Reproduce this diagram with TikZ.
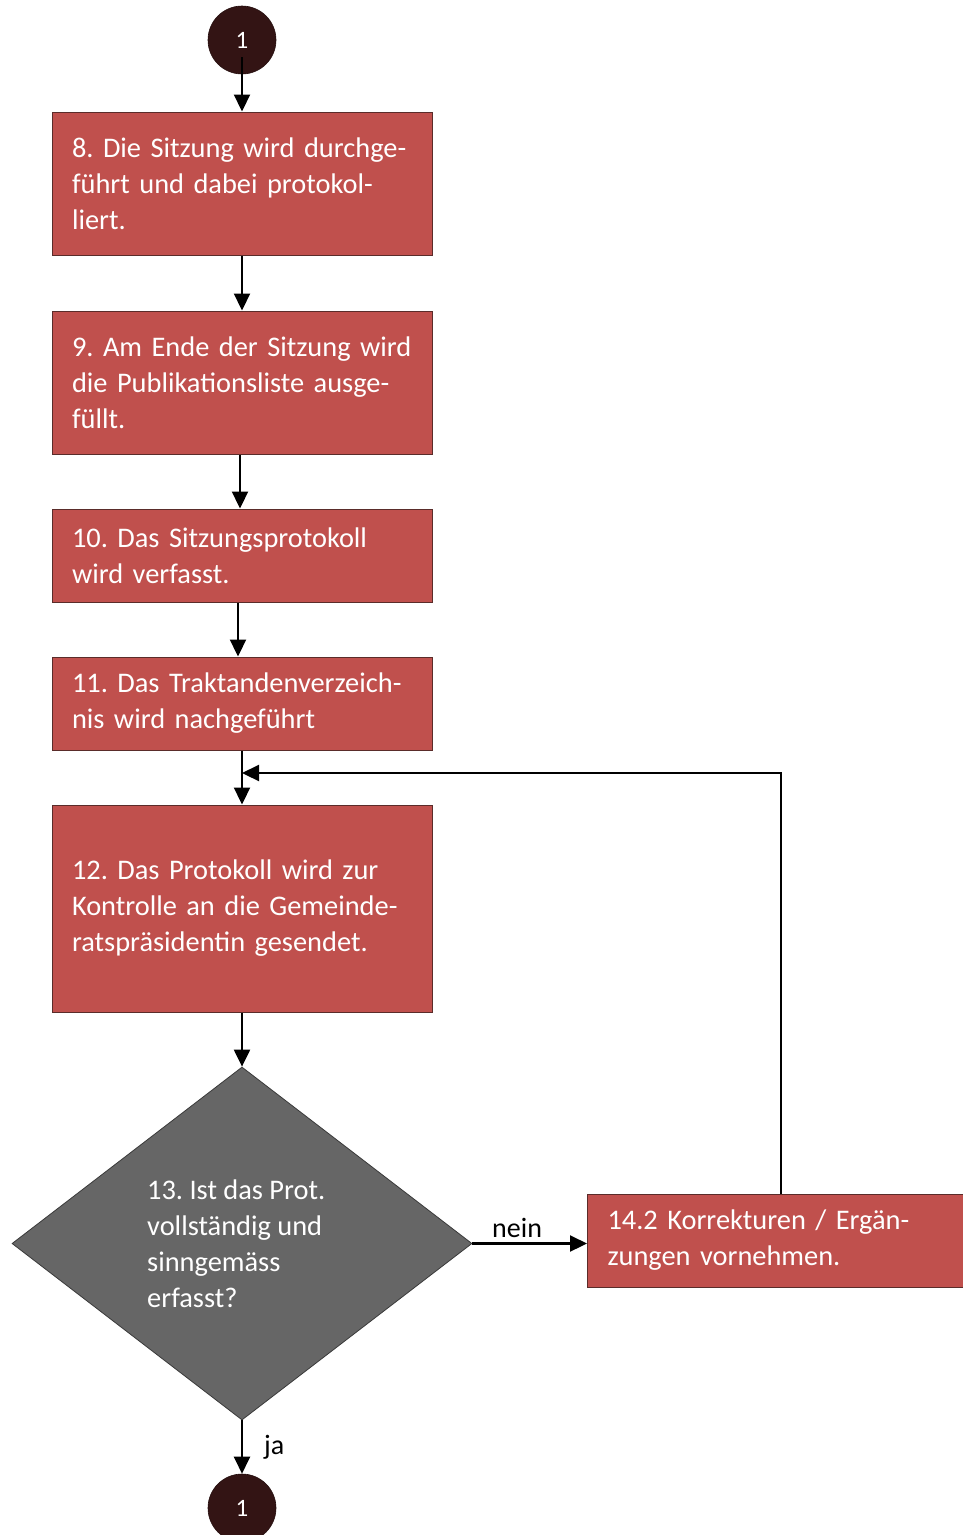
\documentclass[tikz,border=0pt]{standalone}
\usepackage{fontspec}
\setmainfont{Carlito}
\usetikzlibrary{shapes.geometric,arrows.meta}
\definecolor{boxred}{HTML}{C0504D}
\definecolor{boxline}{HTML}{5A2C2A}
\definecolor{dgray}{HTML}{666666}
\definecolor{dline}{HTML}{3A3A3A}
\definecolor{circ}{HTML}{331414}
\newcommand\lnx[1]{\mbox{#1}}
\tikzset{
  stepbox/.style={rectangle, fill=boxred, draw=boxline, line width=1pt, text=white,
    text width=340pt, inner xsep=20pt, inner ysep=0pt, align=left,
    font=\fontsize{28.4}{36}\selectfont\frenchspacing},
  conn/.style={circle, fill=circ, draw=circ!70!black, line width=0.6pt, minimum width=68pt,
    inner sep=0pt, text=white, font=\fontsize{25}{28}\selectfont},
  arr/.style={line width=2.2pt, -{Triangle[width=16pt,length=17pt]}},
  lbl/.style={font=\fontsize{28}{32}\selectfont, inner sep=0pt},
}
\begin{document}
\begin{tikzpicture}[x=1pt,y=-1pt]
\useasboundingbox (0,0) rectangle (963,1535);
\node[conn] (c1) at (242,40) {\raisebox{-5pt}{1}};
\node[stepbox, minimum height=143pt] (b8) at (242,183.5)
  {\lnx{8. Die Sitzung wird durchge-}\\\lnx{führt und dabei protokol-}\\\lnx{liert.}};
\node[stepbox, minimum height=143pt] (b9) at (242,382.5)
  {\lnx{9. Am Ende der Sitzung wird}\\\lnx{die Publikationsliste ausge-}\\\lnx{füllt.}};
\node[stepbox, minimum height=93pt] (b10) at (242,555.5)
  {\lnx{10. Das Sitzungsprotokoll}\\\lnx{wird verfasst.}};
\node[stepbox, minimum height=93pt] (b11) at (242,703.5)
  {\lnx{11. Das Traktandenverzeich-}\\\lnx{nis wird nachgeführt}};
\node[stepbox, minimum height=207pt] (b12) at (242,908.5)
  {\lnx{12. Das Protokoll wird zur}\\\lnx{Kontrolle an die Gemeinde-}\\\lnx{ratspräsidentin gesendet.}};
\node[diamond, fill=dgray, draw=dline, line width=0.8pt, inner sep=0pt,
  minimum width=460pt, minimum height=353pt] (d13) at (242,1243.5) {};
\node[anchor=west, align=left, text=white, inner sep=0pt,
  font=\fontsize{28.4}{36}\selectfont\frenchspacing] (d13t) at (147,1244)
  {13. Ist das Prot.\\vollständig und\\sinngemäss\\erfasst?};
\node[stepbox, anchor=west, minimum height=93pt] (b14) at (587,1240.5)
  {\lnx{14.2 Korrekturen / Ergän-}\\\lnx{zungen vornehmen.}};
\node[conn] (c2) at (242,1508) {\raisebox{-5pt}{1}};
\coordinate (j) at (242,773);
\coordinate (fb) at (781,773);

\draw[arr] ([yshift=-17pt]c1.center) -- (b8.north);
\draw[arr] (b8.south) -- (b9.north);
\draw[arr] ([xshift=-2pt]b9.south) -- ([xshift=-2pt]b10.north);
\draw[arr] ([xshift=-4pt]b10.south) -- ([xshift=-4pt]b11.north);
\draw[arr] (b11.south) -- (b12.north);
\draw[arr] (b12.south) -- (d13.north);
\draw[arr] (d13.east) -- node[lbl, pos=0.39, above=5pt] (lnein) {nein} (d13.east -| b14.west);
\draw[arr] (d13.south) -- node[lbl, right=21pt] (lja) {ja} (c2.north);
\draw[arr] (b14.north -| fb) -- (fb) -- (j);
\end{tikzpicture}
\end{document}
